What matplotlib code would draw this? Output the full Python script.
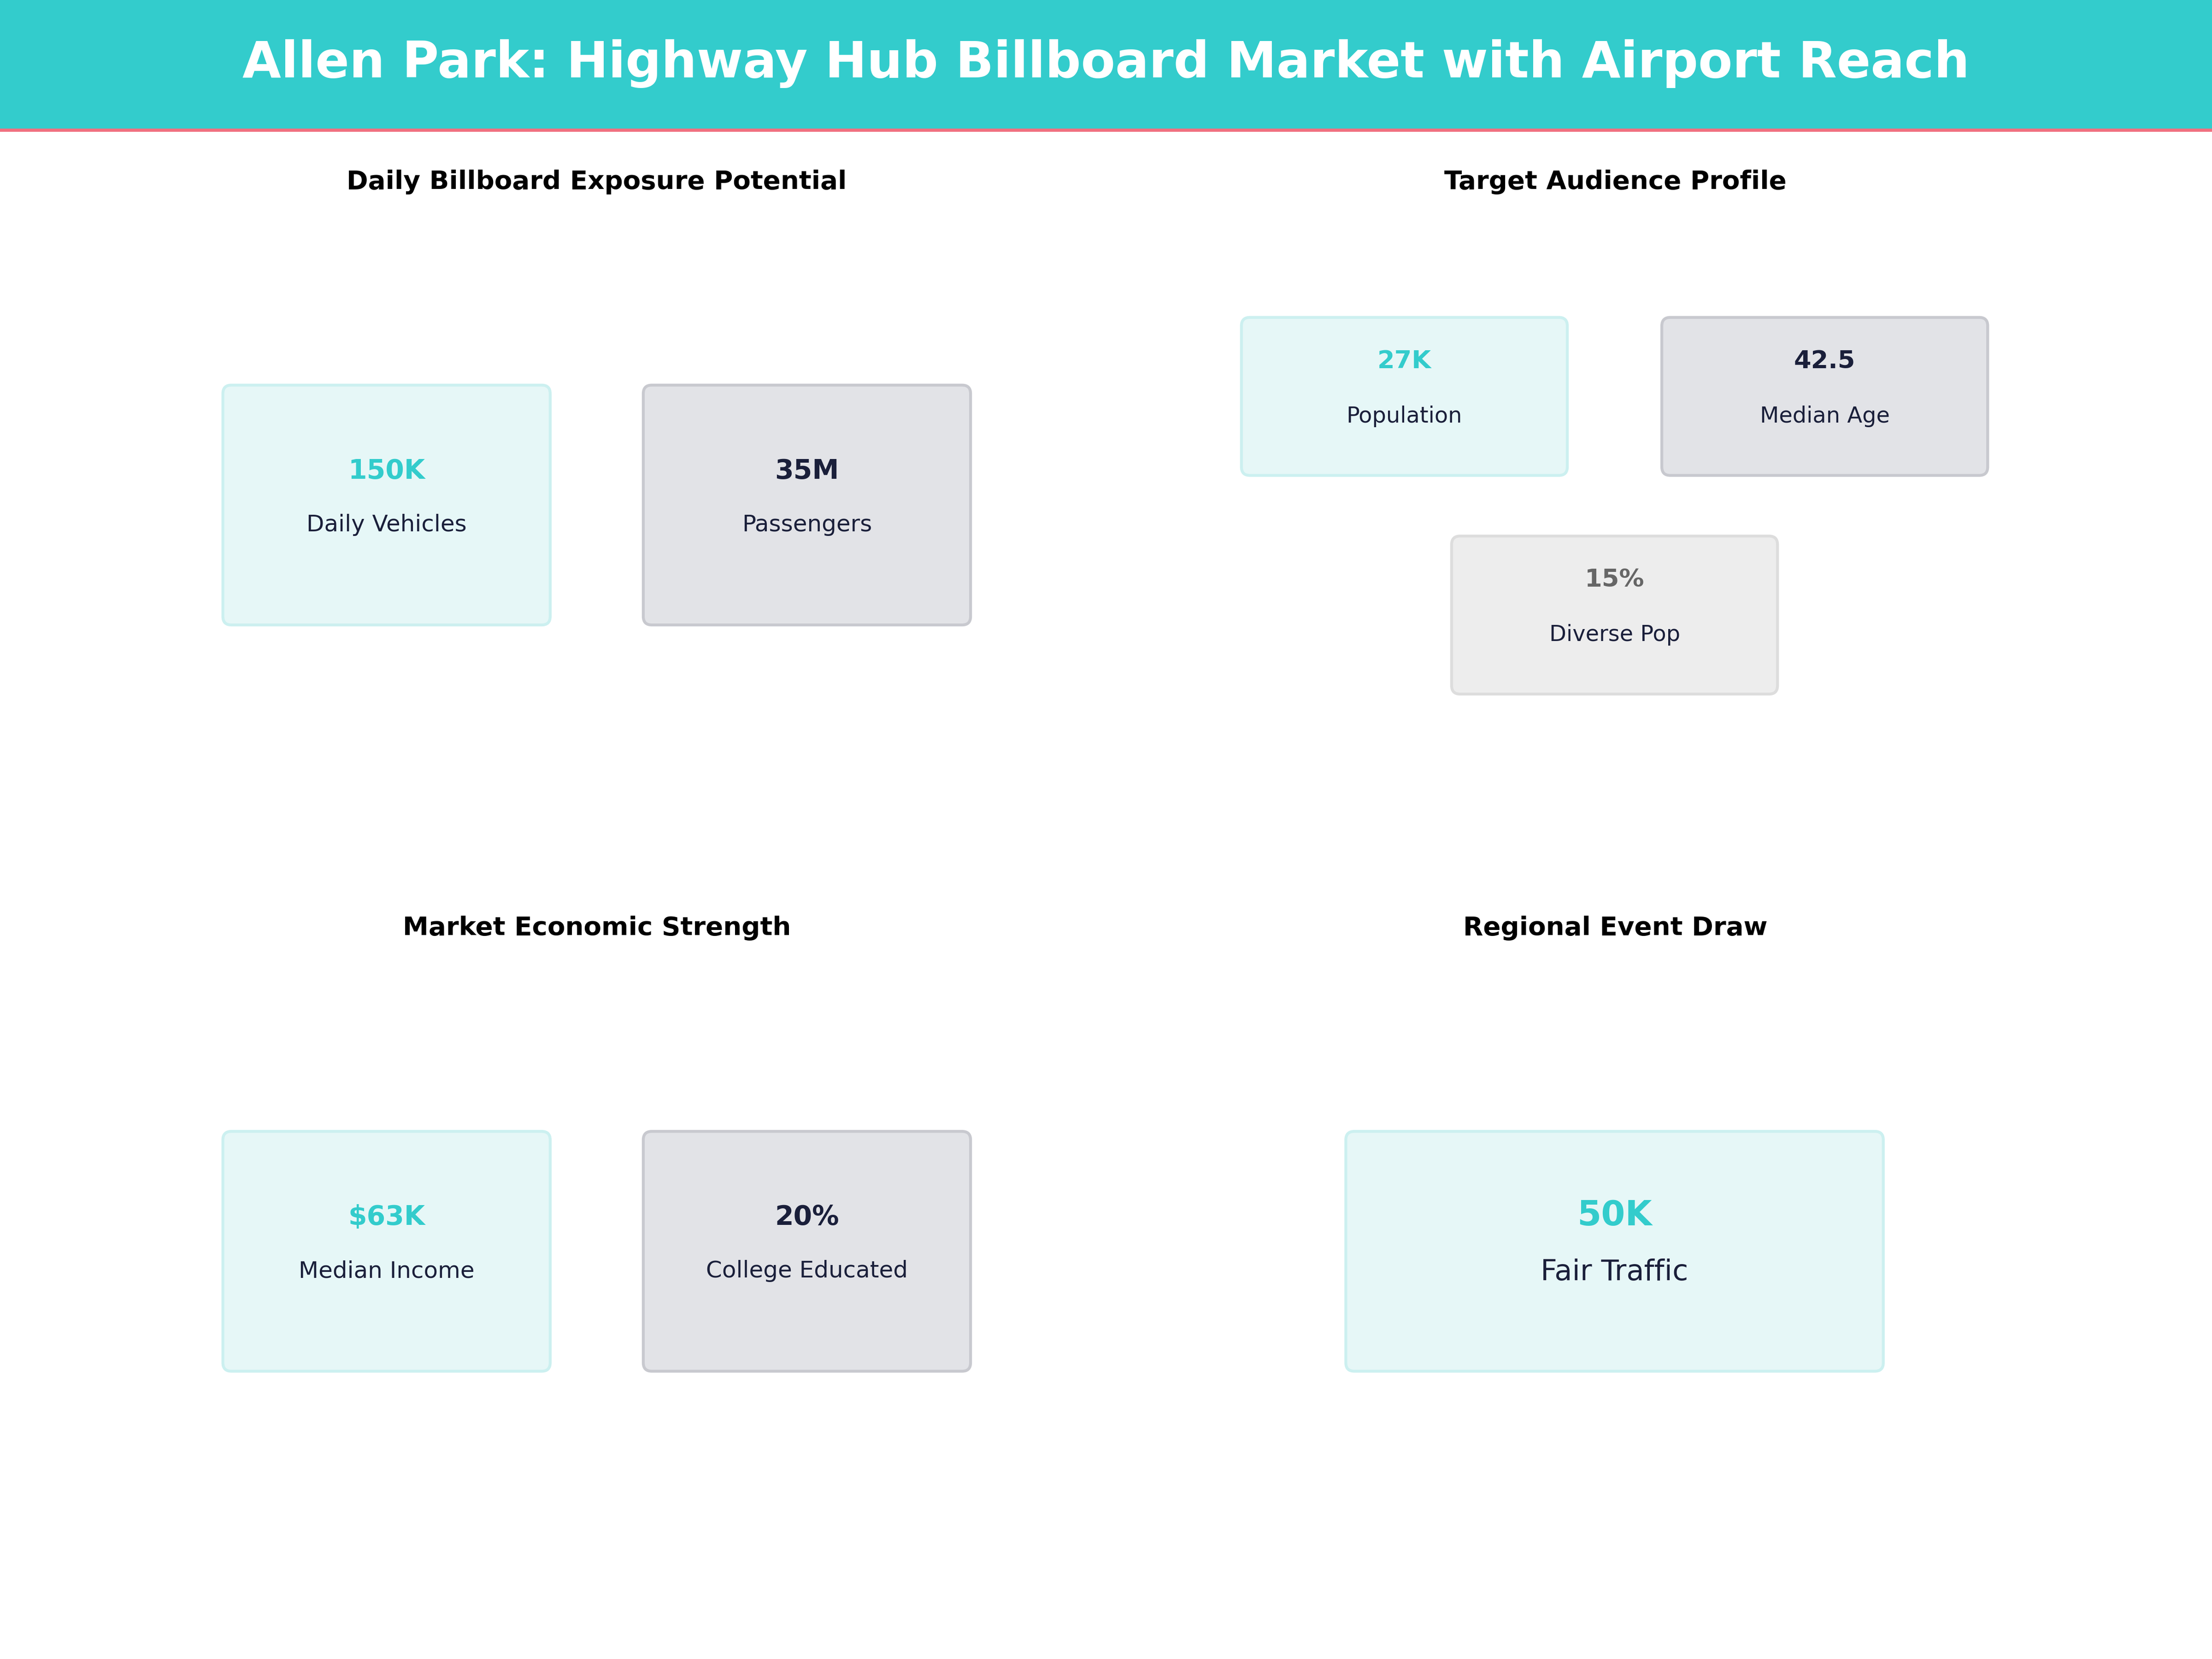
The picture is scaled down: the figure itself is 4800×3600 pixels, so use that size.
import matplotlib.pyplot as plt
from matplotlib.patches import FancyBboxPatch, Rectangle

title = 'Allen Park: Highway Hub Billboard Market with Airport Reach'
panel_titles = ['Daily Billboard Exposure Potential', 'Target Audience Profile',
                'Market Economic Strength', 'Regional Event Draw']
exposure_values = ['150K', '35M']
exposure_labels = ['Daily Vehicles', 'Passengers']
audience_values = ['27K', '42.5', '15%']
audience_labels = ['Population', 'Median Age', 'Diverse Pop']
economic_values = ['$63K', '20%']
economic_labels = ['Median Income', 'College Educated']
event_values = ['50K']
event_labels = ['Fair Traffic']

TEAL = '#33CCCC'
NAVY = '#1A1F3A'
styles = {
    'teal': dict(fc='#E6F7F7', ec='#CCF0F0', tc=TEAL),
    'dark': dict(fc='#E2E3E7', ec='#C8C9CF', tc=NAVY),
    'grey': dict(fc='#EDEDED', ec='#DDDDDD', tc='#666666'),
}

fig = plt.figure(figsize=(16, 12), dpi=300)
ax = fig.add_axes([0, 0, 1, 1])
ax.set_xlim(0, 1568)
ax.set_ylim(1176, 0)
ax.axis('off')

ax.add_patch(Rectangle((0, 0), 1568, 92, fc=TEAL, ec='none'))
ax.add_patch(Rectangle((0, 91), 1568, 2.5, fc='#F07080', ec='none'))
ax.text(784, 45, title, ha='center', va='center', color='white',
        fontsize=26, fontweight='bold')

for t, (x, y) in zip(panel_titles, [(423, 129), (1145, 129), (423, 658), (1145, 658)]):
    ax.text(x, y, t, ha='center', va='center', fontsize=13.5, fontweight='bold')


def card(x0, y0, w, h, value, label, style, vsize=14, lsize=12, voff=-24, loff=14):
    s = styles[style]
    ax.add_patch(FancyBboxPatch((x0, y0), w, h, boxstyle='round,pad=0,rounding_size=6',
                                fc=s['fc'], ec=s['ec'], lw=1.5))
    cx, cy = x0 + w / 2, y0 + h / 2
    ax.text(cx, cy + voff, value, ha='center', va='center', color=s['tc'],
            fontsize=vsize, fontweight='bold')
    ax.text(cx, cy + loff, label, ha='center', va='center', color=NAVY, fontsize=lsize)


for i, (v, l) in enumerate(zip(exposure_values, exposure_labels)):
    card(158 + i * 298, 273, 232, 170, v, l, ['teal', 'dark'][i])
pos2 = [(880, 225), (1178, 225), (1029, 380)]
for (x, y), v, l, st in zip(pos2, audience_values, audience_labels, ['teal', 'dark', 'grey']):
    card(x, y, 231, 112, v, l, st, vsize=13, lsize=11.5, voff=-25, loff=14)
for i, (v, l) in enumerate(zip(economic_values, economic_labels)):
    card(158 + i * 298, 802, 232, 170, v, l, ['teal', 'dark'][i])
card(954, 802, 381, 170, event_values[0], event_labels[0], 'teal',
     vsize=18, lsize=15, voff=-25, loff=15)

fig.savefig('out.png', dpi=300)
